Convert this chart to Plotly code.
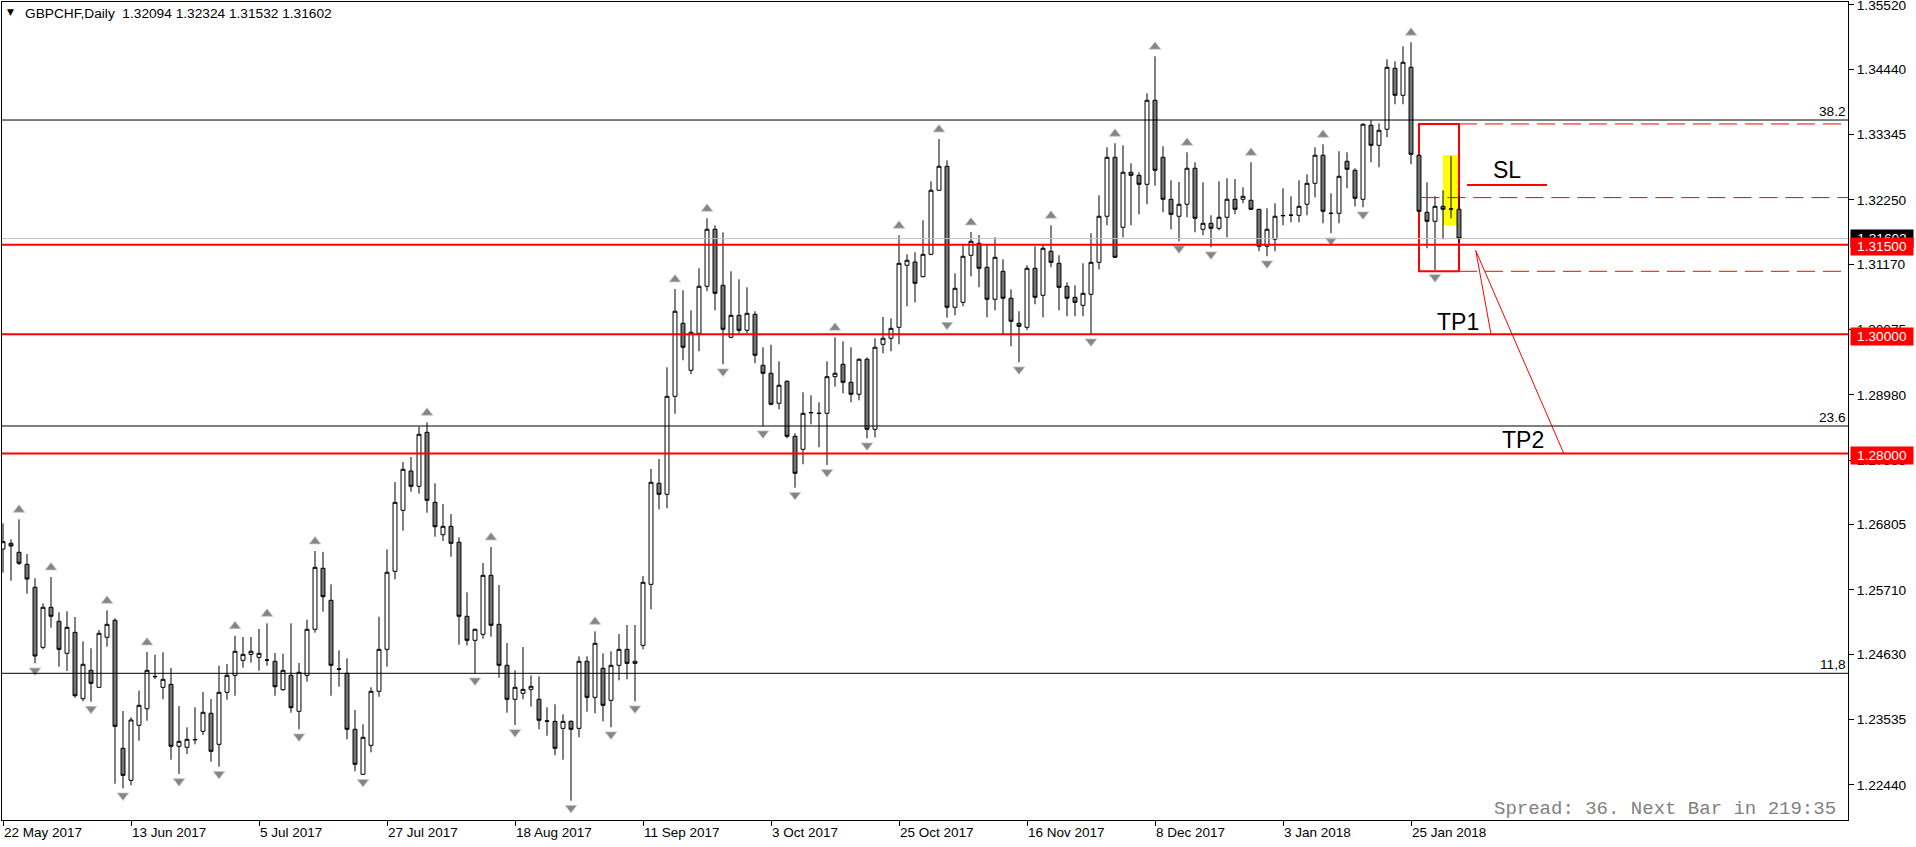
import plotly.graph_objects as go

# ---------------- data ----------------
opens = [
    1.26397, 1.26493, 1.26342, 1.26141, 1.25755, 1.24749, 1.25420, 1.25185, 1.24648, 1.25000,
    1.23887, 1.24363, 1.24078, 1.24917, 1.25202, 1.23055, 1.22518, 1.23441, 1.23719, 1.24262,
    1.24078, 1.24128, 1.23089, 1.23072, 1.23196, 1.23340, 1.23642, 1.23122, 1.23994, 1.24279,
    1.24531, 1.24631, 1.24581, 1.24538, 1.24514, 1.24038, 1.24279, 1.23676, 1.24279, 1.25051,
    1.26074, 1.25537, 1.24388, 1.24313, 1.23374, 1.22619, 1.23105, 1.24011, 1.24715, 1.26023,
    1.27046, 1.27705, 1.27449, 1.28354, 1.27180, 1.26637, 1.26778, 1.26510, 1.25269, 1.24866,
    1.24967, 1.25956, 1.25134, 1.24447, 1.23877, 1.23977, 1.24044, 1.23877, 1.23516, 1.23507,
    1.23390, 1.23507, 1.23390, 1.24514, 1.23910, 1.24397, 1.23860, 1.24447, 1.24715, 1.24480,
    1.24782, 1.25805, 1.27499, 1.27315, 1.28958, 1.30182, 1.29394, 1.30015, 1.30803, 1.31759,
    1.30820, 1.29948, 1.30316, 1.30065, 1.30333, 1.29478, 1.29344, 1.28841, 1.29210, 1.28287,
    1.28069, 1.28680, 1.28676, 1.28673, 1.29287, 1.29495, 1.29193, 1.28992, 1.29579, 1.28405,
    1.29830, 1.29931, 1.30115, 1.31155, 1.31210, 1.30964, 1.31339, 1.32413, 1.32815, 1.30451,
    1.30534, 1.31323, 1.31524, 1.31121, 1.30585, 1.31054, 1.30602, 1.30182, 1.30115, 1.31105,
    1.30652, 1.31390, 1.31188, 1.30803, 1.30618, 1.30484, 1.30669, 1.31205, 1.31977, 1.32966,
    1.31792, 1.32715, 1.32664, 1.32513, 1.33922, 1.32966, 1.32262, 1.31977, 1.32178, 1.32782,
    1.31759, 1.31859, 1.31775, 1.31960, 1.32262, 1.32262, 1.32245, 1.32094, 1.31474, 1.31591,
    1.31984, 1.31993, 1.31993, 1.32178, 1.32530, 1.33000, 1.32030, 1.32027, 1.32899, 1.32748,
    1.32262, 1.33503, 1.33167, 1.33436, 1.34459, 1.34006, 1.34475, 1.33000, 1.32044, 1.31893,
    1.32144, 1.32096, 1.32094,
]
highs = [
    1.26828, 1.26560, 1.26895, 1.26313, 1.25906, 1.25487, 1.25928, 1.25336, 1.25353, 1.25257,
    1.24849, 1.24732, 1.25039, 1.25369, 1.25235, 1.23681, 1.23575, 1.24021, 1.24670, 1.24625,
    1.24665, 1.24402, 1.23764, 1.23407, 1.23743, 1.23999, 1.23882, 1.24440, 1.24469, 1.24943,
    1.24922, 1.24922, 1.25056, 1.25151, 1.24653, 1.24641, 1.25151, 1.24486, 1.25212, 1.26364,
    1.26350, 1.25805, 1.24698, 1.24564, 1.23697, 1.23458, 1.24078, 1.25262, 1.26392, 1.27521,
    1.27856, 1.27940, 1.28448, 1.28522, 1.27499, 1.27152, 1.26984, 1.26594, 1.25671, 1.25060,
    1.26163, 1.26431, 1.25794, 1.24821, 1.24363, 1.24754, 1.24279, 1.24262, 1.23743, 1.23793,
    1.23625, 1.23525, 1.24598, 1.24598, 1.25017, 1.24648, 1.24682, 1.24972, 1.25123, 1.25123,
    1.25944, 1.27739, 1.27907, 1.29444, 1.30758, 1.30736, 1.30400, 1.31105, 1.31943, 1.31826,
    1.31708, 1.31054, 1.30920, 1.30786, 1.30384, 1.29780, 1.29823, 1.29545, 1.29226, 1.28338,
    1.29025, 1.28975, 1.28857, 1.29545, 1.29948, 1.29880, 1.29780, 1.29595, 1.29612, 1.29931,
    1.30288, 1.30266, 1.31658, 1.31339, 1.31373, 1.31910, 1.32564, 1.33273, 1.32916, 1.31021,
    1.31507, 1.31713, 1.31663, 1.31507, 1.31624, 1.31256, 1.30752, 1.30384, 1.31155, 1.31474,
    1.31490, 1.31826, 1.31323, 1.30870, 1.30820, 1.31188, 1.31692, 1.32329, 1.33134, 1.33201,
    1.33167, 1.32866, 1.32715, 1.34039, 1.34660, 1.33151, 1.32580, 1.32552, 1.33050, 1.32882,
    1.32547, 1.31993, 1.32564, 1.32614, 1.32602, 1.32463, 1.32882, 1.32100, 1.32111, 1.32195,
    1.32446, 1.32312, 1.32580, 1.32681, 1.33134, 1.33184, 1.32362, 1.33067, 1.33050, 1.32782,
    1.33536, 1.33587, 1.33536, 1.34610, 1.34576, 1.34828, 1.34895, 1.33010, 1.32547, 1.32312,
    1.32413, 1.32983, 1.32324,
]
lows = [
    1.26000, 1.25866, 1.26129, 1.25648, 1.24480, 1.24715, 1.25078, 1.24423, 1.24351, 1.23904,
    1.23843, 1.23837, 1.24070, 1.24759, 1.22461, 1.22384, 1.22435, 1.23183, 1.23518, 1.24217,
    1.23877, 1.22864, 1.22624, 1.22959, 1.23122, 1.23278, 1.22830, 1.22746, 1.23870, 1.23937,
    1.24407, 1.24491, 1.24356, 1.24440, 1.23937, 1.24021, 1.23652, 1.23374, 1.24172, 1.24994,
    1.25346, 1.23937, 1.24088, 1.23206, 1.22669, 1.22610, 1.22988, 1.23920, 1.24423, 1.25889,
    1.26704, 1.27358, 1.27325, 1.27006, 1.26604, 1.26531, 1.26268, 1.24792, 1.24780, 1.24313,
    1.24893, 1.24927, 1.24239, 1.23652, 1.23446, 1.23877, 1.23753, 1.23374, 1.23266, 1.22938,
    1.22864, 1.22176, 1.23240, 1.23669, 1.23642, 1.23507, 1.23408, 1.24195, 1.24212, 1.23843,
    1.24715, 1.25386, 1.27063, 1.27080, 1.28666, 1.29562, 1.29327, 1.29713, 1.30719, 1.30400,
    1.29495, 1.29931, 1.30015, 1.30015, 1.29512, 1.28455, 1.28807, 1.28740, 1.28254, 1.27425,
    1.27818, 1.28489, 1.28103, 1.27806, 1.29119, 1.29008, 1.28857, 1.28891, 1.28254, 1.28271,
    1.29679, 1.29713, 1.29830, 1.30467, 1.30531, 1.30954, 1.31323, 1.32400, 1.30276, 1.30316,
    1.30467, 1.30970, 1.30786, 1.30283, 1.30400, 1.29998, 1.29797, 1.29528, 1.30065, 1.30501,
    1.30283, 1.31121, 1.30400, 1.30300, 1.30300, 1.30300, 1.29998, 1.31088, 1.31826, 1.31280,
    1.31624, 1.31826, 1.32010, 1.32178, 1.32490, 1.32044, 1.31759, 1.31557, 1.31960, 1.31708,
    1.31658, 1.31457, 1.31742, 1.31624, 1.32010, 1.32195, 1.32085, 1.31390, 1.31306, 1.31390,
    1.31826, 1.31876, 1.31876, 1.31993, 1.32295, 1.31859, 1.31692, 1.31859, 1.32446, 1.32140,
    1.32128, 1.32882, 1.32798, 1.33302, 1.33855, 1.33855, 1.32849, 1.32050, 1.31440, 1.31076,
    1.31591, 1.31943, 1.31532,
]
closes = [
    1.26520, 1.26448, 1.26158, 1.25894, 1.24603, 1.25420, 1.25269, 1.24715, 1.25084, 1.23937,
    1.24464, 1.24145, 1.24984, 1.25134, 1.23424, 1.22602, 1.23530, 1.23776, 1.24363, 1.24256,
    1.24212, 1.23089, 1.23172, 1.23206, 1.23203, 1.23659, 1.23005, 1.23994, 1.24279, 1.24682,
    1.24631, 1.24682, 1.24648, 1.24533, 1.24088, 1.24363, 1.23736, 1.24330, 1.25051, 1.26090,
    1.25597, 1.24447, 1.24382, 1.23374, 1.22787, 1.23240, 1.24011, 1.24715, 1.26007, 1.27180,
    1.27734, 1.27449, 1.28321, 1.27214, 1.26771, 1.26778, 1.26493, 1.25269, 1.24866, 1.25051,
    1.25956, 1.25118, 1.24447, 1.23877, 1.24078, 1.24044, 1.24095, 1.23525, 1.23510, 1.23055,
    1.23507, 1.23374, 1.24514, 1.23910, 1.24816, 1.23776, 1.24447, 1.24715, 1.24480, 1.24514,
    1.25839, 1.27516, 1.27315, 1.28958, 1.30384, 1.29780, 1.30031, 1.30803, 1.31759, 1.30685,
    1.30082, 1.30316, 1.30065, 1.30350, 1.29646, 1.29344, 1.28824, 1.29143, 1.28287, 1.27667,
    1.28673, 1.28686, 1.28670, 1.29287, 1.29344, 1.29193, 1.28992, 1.29579, 1.28405, 1.29780,
    1.29931, 1.30098, 1.31188, 1.31239, 1.30853, 1.31339, 1.32413, 1.32815, 1.30451, 1.30769,
    1.31306, 1.31557, 1.31105, 1.30585, 1.31289, 1.30602, 1.30216, 1.30132, 1.31105, 1.30618,
    1.31440, 1.31205, 1.30786, 1.30602, 1.30534, 1.30685, 1.31205, 1.31977, 1.32966, 1.31289,
    1.32715, 1.32664, 1.32513, 1.33922, 1.32748, 1.32262, 1.32010, 1.32178, 1.32782, 1.31943,
    1.31859, 1.31775, 1.31960, 1.32262, 1.32094, 1.32312, 1.32094, 1.31474, 1.31759, 1.31977,
    1.31990, 1.31996, 1.32144, 1.32530, 1.33000, 1.32061, 1.32024, 1.32647, 1.32765, 1.32279,
    1.33520, 1.33167, 1.33419, 1.34475, 1.34006, 1.34559, 1.33016, 1.32061, 1.31893, 1.32144,
    1.32094, 1.32100, 1.31602,
]

# bar positions of the date labels and their text
tick_bars = [0, 16, 32, 48, 64, 80, 96, 112, 128, 144, 160, 176]
tick_dates = ["22 May 2017", "13 Jun 2017", "5 Jul 2017", "27 Jul 2017", "18 Aug 2017",
              "11 Sep 2017", "3 Oct 2017", "25 Oct 2017", "16 Nov 2017", "8 Dec 2017",
              "3 Jan 2018", "25 Jan 2018"]
price_ticks = [1.35520, 1.34440, 1.33345, 1.32250, 1.31170, 1.30075, 1.28980,
               1.27885, 1.26805, 1.25710, 1.24630, 1.23535, 1.22440]

# fractal arrows (bar indices)
fractal_up = [2, 6, 13, 18, 29, 33, 39, 53, 61, 74, 84, 88, 104, 112, 117, 121,
              131, 139, 144, 148, 156, 165, 176]
fractal_down = [4, 11, 15, 22, 27, 37, 45, 59, 64, 71, 76, 79, 90, 95, 99, 103,
                108, 118, 127, 136, 147, 151, 158, 166, 170, 179]

# chart objects
fib_levels = [1.33591, 1.28460, 1.24313]
fib_labels = ["38.2", "23.6", "11,8"]
red_levels = [1.31500, 1.30000, 1.28000]
bid_price = 1.31602
box_bars = [177, 182]
box_prices = [1.31054, 1.33525]
box_mid_price = 1.32290
box_mid_start = 177.3
yellow_bars = [180, 182]
yellow_prices = [1.31831, 1.33005]
sl_bars = [183, 193]
sl_price = 1.32502
tp_start = [184.1, 1.31400]
tp1_end = [186.0, 1.30000]
tp2_end = [195.1, 1.28000]
text_marks = [("SL", 188.0, 1.32753), ("TP1", 181.9, 1.30204), ("TP2", 190.0, 1.28225)]

header = "GBPCHF,Daily  1.32094 1.32324 1.31532 1.31602"
footer = "Spread: 36. Next Bar in 219:35"

# ---------------- figure ----------------
W, H = 1916, 847
ML, MR, MT, MB = 2, 68, 2, 27
XR = [-0.125, 230.625]
YR = [1.21853, 1.35570]
FONT = "Liberation Sans, Arial, sans-serif"


def px(x):
    return (x - ML) / (W - ML - MR)


def py(y):
    return (H - MB - y) / (H - MT - MB)


bars = list(range(len(opens)))
fig = go.Figure()

fig.add_trace(go.Candlestick(
    x=bars, open=opens, high=highs, low=lows, close=closes,
    increasing=dict(line=dict(color="black", width=1), fillcolor="white"),
    decreasing=dict(line=dict(color="black", width=1), fillcolor="#777777"),
    whiskerwidth=0, hoverinfo="skip", showlegend=False,
))

fig.add_trace(go.Scatter(
    x=fractal_up, y=[highs[i] + 0.0016 for i in fractal_up], mode="markers",
    marker=dict(symbol="triangle-up", size=10, color="#858585",
                line=dict(color="#c8c8c8", width=0.8)),
    hoverinfo="skip", showlegend=False,
))
fig.add_trace(go.Scatter(
    x=fractal_down, y=[lows[i] - 0.0012 for i in fractal_down], mode="markers",
    marker=dict(symbol="triangle-down", size=10, color="#858585",
                line=dict(color="#c8c8c8", width=0.8)),
    hoverinfo="skip", showlegend=False,
))

shapes = []
# yellow highlight (background)
shapes.append(dict(type="rect", xref="x", yref="y", layer="below",
                   x0=yellow_bars[0], x1=yellow_bars[1], y0=yellow_prices[0], y1=yellow_prices[1],
                   fillcolor="#ffff00", line=dict(width=0)))
# red box (background)
shapes.append(dict(type="rect", xref="x", yref="y", layer="below",
                   x0=box_bars[0], x1=box_bars[1], y0=box_prices[0], y1=box_prices[1],
                   line=dict(color="#ff0000", width=2)))
# fibo levels
for lv in fib_levels:
    shapes.append(dict(type="line", xref="paper", yref="y", x0=0, x1=1, y0=lv, y1=lv,
                       line=dict(color="black", width=1), layer="above"))
# bid line
shapes.append(dict(type="line", xref="paper", yref="y", x0=0, x1=1, y0=bid_price, y1=bid_price,
                   line=dict(color="#c0c0c0", width=1), layer="above"))
# red levels
for lv in red_levels:
    shapes.append(dict(type="line", xref="paper", yref="y", x0=0, x1=1, y0=lv, y1=lv,
                       line=dict(color="#ff0000", width=2), layer="above"))
# dashed box levels
for x0, lv in [(box_bars[1], box_prices[1]), (box_mid_start, box_mid_price), (box_bars[1], box_prices[0])]:
    shapes.append(dict(type="line", xref="x", yref="y", x0=x0, x1=XR[1], y0=lv, y1=lv,
                       line=dict(color="#ff0000", width=1, dash="18px,8px"), layer="above"))
# SL segment
shapes.append(dict(type="line", xref="x", yref="y", x0=sl_bars[0], x1=sl_bars[1], y0=sl_price, y1=sl_price,
                   line=dict(color="#ff0000", width=2), layer="above"))
# TP trend lines
for end in (tp1_end, tp2_end):
    shapes.append(dict(type="line", xref="x", yref="y", x0=tp_start[0], y0=tp_start[1], x1=end[0], y1=end[1],
                       line=dict(color="#ff0000", width=1), layer="above"))

ann = []
ann.append(dict(xref="paper", yref="paper", x=px(10.5), y=py(12.5), text="▼", showarrow=False,
                xanchor="center", yanchor="middle", font=dict(family="DejaVu Sans", size=9, color="black")))
ann.append(dict(xref="paper", yref="paper", x=px(23), y=py(14), text=header, showarrow=False,
                xanchor="left", yanchor="middle", font=dict(family=FONT, size=13.7, color="black")))
for lv, lab in zip(fib_levels, fib_labels):
    ann.append(dict(xref="paper", yref="y", x=1, y=lv, text=lab, showarrow=False, xshift=-1,
                    xanchor="right", yanchor="bottom", borderpad=0,
                    font=dict(family=FONT, size=13.7, color="black")))
for t, xb, yp in text_marks:
    ann.append(dict(xref="x", yref="y", x=xb, y=yp, text=t, showarrow=False,
                    xanchor="center", yanchor="middle", font=dict(family=FONT, size=23, color="black")))
# price labels on axis
ann.append(dict(xref="paper", yref="y", x=1, y=bid_price, text=f"{bid_price:.5f}", showarrow=False,
                xanchor="left", yanchor="middle", xshift=2, bgcolor="black", width=60, borderpad=1,
                font=dict(family=FONT, size=13.7, color="white")))
for lv in red_levels:
    ann.append(dict(xref="paper", yref="y", x=1, y=lv, text=f"{lv:.5f}", showarrow=False,
                    xanchor="left", yanchor="middle", xshift=2, yshift=-2, bgcolor="#ff0000", width=60,
                    borderpad=1, font=dict(family=FONT, size=13.7, color="white")))
ann.append(dict(xref="paper", yref="paper", x=px(1838), y=py(809), text=footer, showarrow=False,
                xanchor="right", yanchor="middle",
                font=dict(family="Liberation Mono, Courier New, monospace", size=19, color="#808080")))

fig.update_layout(
    width=W, height=H, margin=dict(l=ML, r=MR, t=MT, b=MB, pad=0, autoexpand=False),
    paper_bgcolor="white", plot_bgcolor="white",
    shapes=shapes, annotations=ann, showlegend=False,
    xaxis=dict(range=XR, rangeslider=dict(visible=False), showgrid=False, zeroline=False,
               automargin=False,
               showline=True, mirror=True, linecolor="black", linewidth=1,
               tickmode="array", tickvals=tick_bars, ticktext=tick_dates,
               ticks="outside", ticklen=5, tickcolor="black", ticklabelposition="outside right",
               ticklabeloverflow="allow",
               tickfont=dict(family=FONT, size=13.5, color="black")),
    yaxis=dict(range=YR, side="right", showgrid=False, zeroline=False,
               automargin=False,
               showline=True, mirror=True, linecolor="black", linewidth=1,
               tickmode="array", tickvals=price_ticks, ticktext=[f"{v:.5f}" for v in price_ticks],
               ticks="outside", ticklen=5, tickcolor="black", ticklabeloverflow="allow",
               tickfont=dict(family=FONT, size=13.7, color="black")),
)

fig.write_html("out.html")
